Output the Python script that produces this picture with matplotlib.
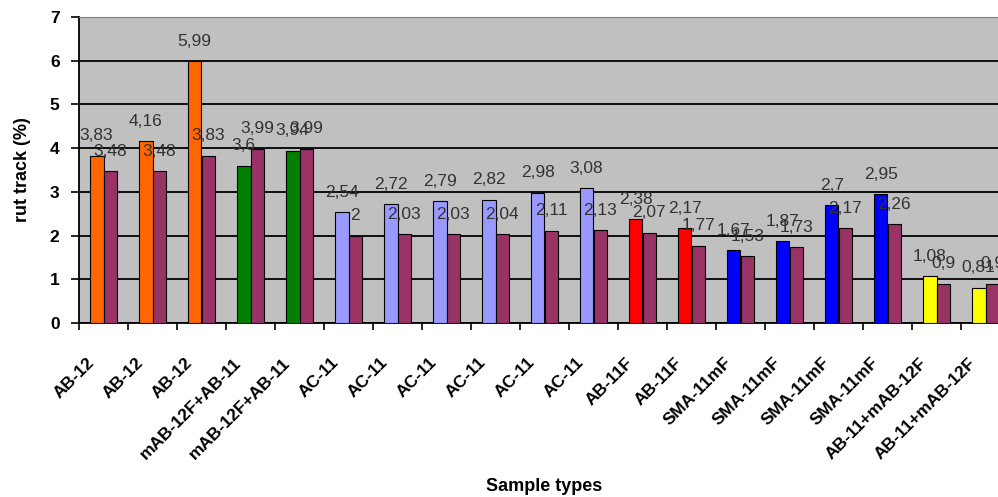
import numpy as np
import matplotlib.pyplot as plt

# sample types along the x axis
labels = ['AB-12', 'AB-12', 'AB-12', 'mAB-12F+AB-11', 'mAB-12F+AB-11',
          'AC-11', 'AC-11', 'AC-11', 'AC-11', 'AC-11', 'AC-11',
          'AB-11F', 'AB-11F', 'SMA-11mF', 'SMA-11mF', 'SMA-11mF', 'SMA-11mF',
          'AB-11+mAB-12F', 'AB-11+mAB-12F']

# rut track (%) for the two series
serie1 = [3.83, 4.16, 5.99, 3.6, 3.94,
          2.54, 2.72, 2.79, 2.82, 2.98, 3.08,
          2.38, 2.17, 1.67, 1.87, 2.7, 2.95,
          1.08, 0.81]
serie2 = [3.48, 3.48, 3.83, 3.99, 3.99,
          2.0, 2.03, 2.03, 2.04, 2.11, 2.13,
          2.07, 1.77, 1.53, 1.73, 2.17, 2.26,
          0.9, 0.9]

# colour of the first series per mix type
colores1 = ['#FF6600'] * 3 + ['#008000'] * 2 + ['#9999FF'] * 6 + \
           ['#FF0000'] * 2 + ['#0000FF'] * 4 + ['#FFFF00'] * 2
color2 = '#993366'

plt.rcParams['font.family'] = ['Liberation Sans', 'DejaVu Sans']

fig = plt.figure(figsize=(9.98, 4.97), dpi=100)
ax = fig.add_axes([79 / 998, 174 / 497, 931 / 998, 306 / 497])
ax.set_facecolor('#C0C0C0')

x = np.arange(len(labels))
w = 0.28
b1 = ax.bar(x - w / 2, serie1, w, color=colores1, edgecolor='black', linewidth=0.8, zorder=3)
b2 = ax.bar(x + w / 2, serie2, w, color=color2, edgecolor='black', linewidth=0.8, zorder=3)

# value labels with decimal comma
for bars, vals in ((b1, serie1), (b2, serie2)):
    for r, v in zip(bars, vals):
        txt = ('%g' % v).replace('.', ',')
        ax.annotate(txt, (r.get_x() + r.get_width() / 2, v), xytext=(0, 11),
                    textcoords='offset points', ha='center', va='baseline',
                    fontsize=12.5, color='#333333', zorder=4)

ax.set_xlim(-0.5, len(labels) - 0.5)
ax.set_ylim(0, 7)
ax.set_yticks(range(8))
ax.yaxis.grid(True, color='black', linewidth=1.3, zorder=1)
ax.set_axisbelow(True)

# category labels sit a bit left of the group centre, slanted
ax.set_xticks(x - 0.35)
ax.set_xticklabels(labels, rotation=45, ha='right', rotation_mode='anchor',
                   fontsize=12.5, fontweight='bold')
ax.set_xticks(np.arange(-0.5, len(labels), 1), minor=True)
ax.tick_params(axis='x', which='major', length=0, pad=23)
ax.tick_params(axis='x', which='minor', length=5, width=1.2, direction='out')
ax.tick_params(axis='y', length=6, width=1.2, direction='out', labelsize=12.5, pad=8)
for t in ax.get_yticklabels():
    t.set_fontweight('bold')

for s in ('left', 'bottom'):
    ax.spines[s].set_color('black')
    ax.spines[s].set_linewidth(1.3)
ax.spines['top'].set_color('#808080')
ax.spines['right'].set_visible(False)

ax.set_ylabel('rut track (%)', fontsize=13, fontweight='bold')
ax.yaxis.set_label_coords(-0.052, 0.5)
ax.set_xlabel('Sample types', fontsize=13, fontweight='bold')
ax.xaxis.set_label_coords(0.5, -0.505)

fig.savefig('out.png', dpi=100)
